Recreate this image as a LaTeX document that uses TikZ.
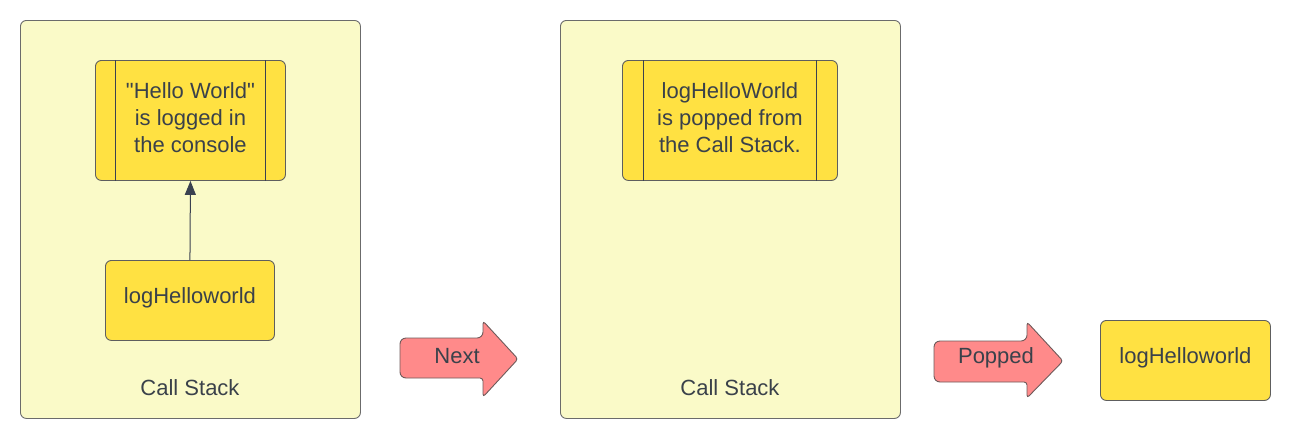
\documentclass[tikz,border=0pt]{standalone}
\usepackage{fontspec}
\setmainfont{Liberation Sans}[Ligatures=TeXOff]
\usetikzlibrary{arrows.meta,calc}
\definecolor{contfill}{HTML}{FAFAC8}
\definecolor{contline}{HTML}{6B6B6B}
\definecolor{boxfill}{HTML}{FFE142}
\definecolor{boxline}{HTML}{5E5E5E}
\definecolor{txt}{HTML}{3A414A}
\definecolor{arrfill}{HTML}{FF8A8A}
\definecolor{arrline}{HTML}{6E5A5A}
\definecolor{procline}{HTML}{3A4150}
\tikzset{
  container/.style={draw=contline, fill=contfill, line width=0.9pt, rounded corners=6pt, anchor=north west, inner sep=0pt},
  ybox/.style={draw=boxline, fill=boxfill, line width=0.9pt, rounded corners=6pt, anchor=north west, inner sep=0pt},
  lbl/.style={text=txt, font=\fontsize{22}{26.8}\selectfont, inner sep=0pt, align=center},
  fatarrow/.style={draw=arrline, fill=arrfill, line width=0.9pt, rounded corners=3pt},
  conn/.style={draw=procline, line width=1pt, -{Triangle[length=14pt,width=11pt]}},
  procinner/.style={draw=procline, line width=0.9pt}
}
\begin{document}
\begin{tikzpicture}[x=1pt,y=-1pt]
\useasboundingbox (0,0) rectangle (1290,440);
% containers
\node[container, minimum width=340pt, minimum height=398pt] (c1) at (20,20) {};
\node[container, minimum width=340pt, minimum height=398pt] (c2) at (560,20) {};
% process box 1
\node[ybox, minimum width=190pt, minimum height=120pt] (p1) at (95,60) {};
\draw[procinner] ($(p1.north west)+(20,0)$) -- ($(p1.south west)+(20,0)$);
\draw[procinner] ($(p1.north east)+(-20,0)$) -- ($(p1.south east)+(-20,0)$);
\node[lbl] (p1t) at ($(p1.center)+(0,-3)$) {"Hello World"\\is logged in\\the console};
% logHelloworld box
\node[ybox, minimum width=169pt, minimum height=80pt] (lh) at (105,260) {};
\node[lbl] (lht) at ($(lh.center)+(0,-3)$) {logHelloworld};
\draw[conn] (lh.north) -- (p1.south);
\node[lbl] (cs1) at (190,388) {Call Stack};
% process box 2
\node[ybox, minimum width=215pt, minimum height=120pt] (p2) at (622,60) {};
\draw[procinner] ($(p2.north west)+(21,0)$) -- ($(p2.south west)+(21,0)$);
\draw[procinner] ($(p2.north east)+(-21,0)$) -- ($(p2.south east)+(-21,0)$);
\node[lbl] (p2t) at ($(p2.center)+(0,-3)$) {logHelloWorld\\is popped from\\the Call Stack.};
\node[lbl] (cs2) at (730,388) {Call Stack};
% Next arrow
\path[fatarrow] (483,338) -- (483,321) -- (518,359) -- (483,397) -- (483,378)
  [rounded corners=6pt] -- (400,378) -- (400,338) -- cycle;
\node[lbl] (next) at (457,356) {Next};
% Popped arrow
\path[fatarrow] (1027,341) -- (1027,322) -- (1063,361) -- (1027,398) -- (1027,382)
  [rounded corners=6pt] -- (934,382) -- (934,341) -- cycle;
\node[lbl] (popped) at (996,358) {Popped};
% right box
\node[ybox, minimum width=170pt, minimum height=80pt] (lh2) at (1100,320) {};
\node[lbl] (lh2t) at ($(lh2.center)+(0,-3)$) {logHelloworld};
\end{tikzpicture}
\end{document}
